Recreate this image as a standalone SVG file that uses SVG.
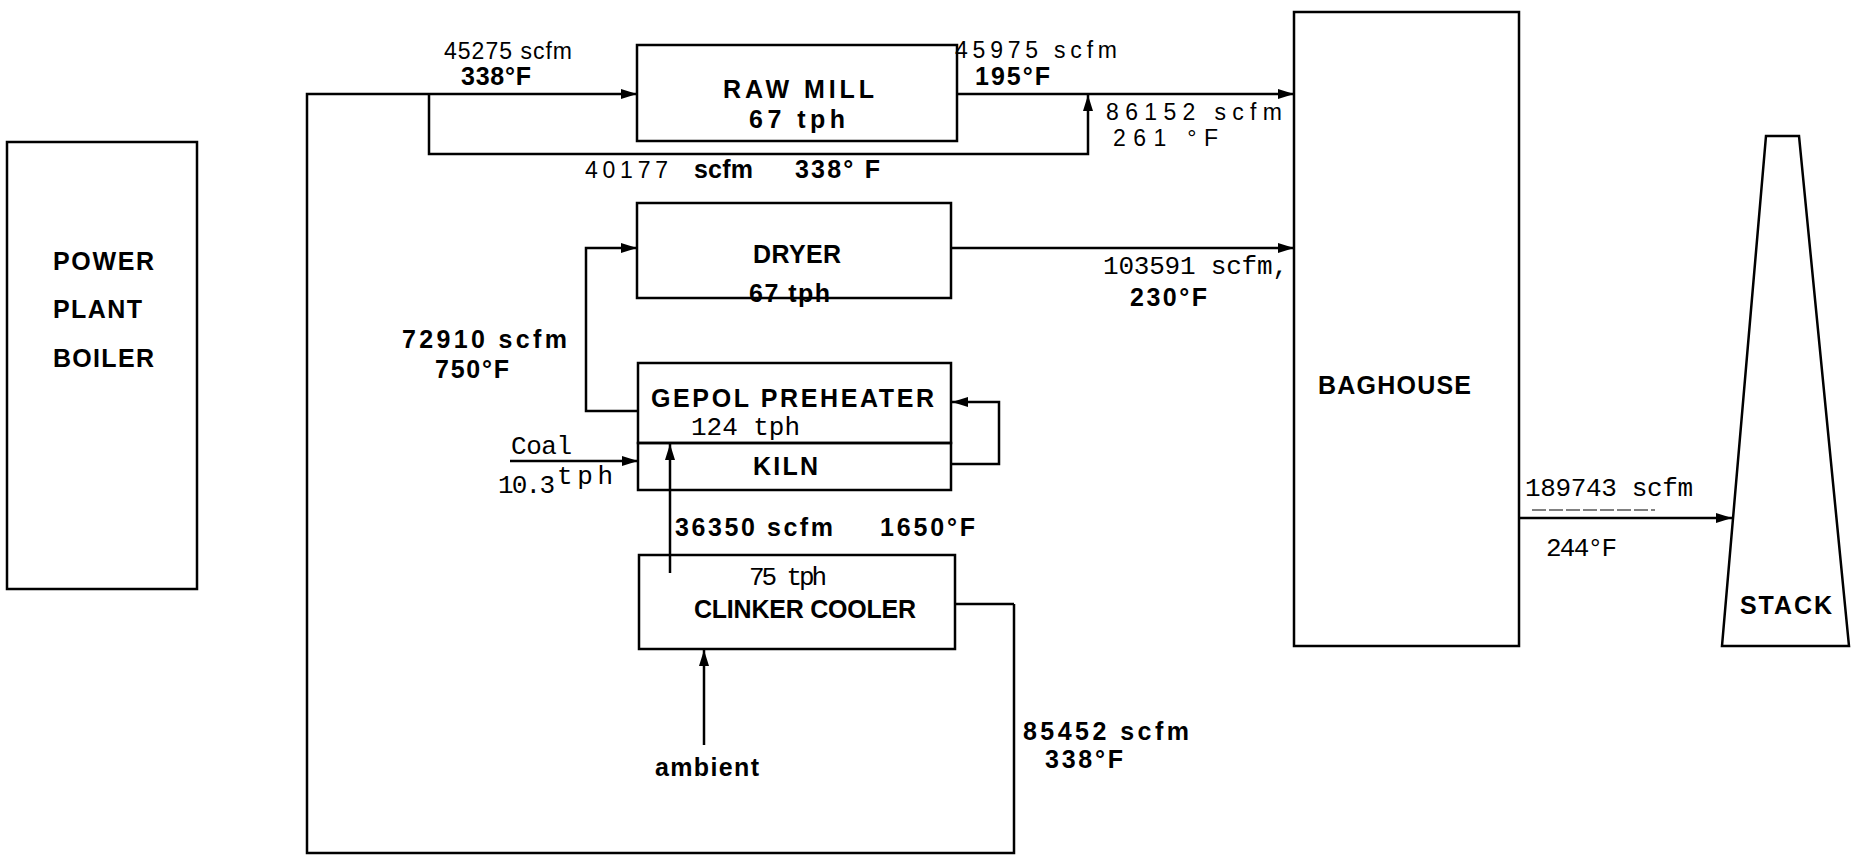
<svg xmlns="http://www.w3.org/2000/svg" width="1853" height="856" viewBox="0 0 1853 856">
<style>
.box{fill:none;stroke:#000;stroke-width:2.5}
.ln{fill:none;stroke:#000;stroke-width:2.5}
.lb{font-family:"Liberation Sans",Arial,sans-serif;font-weight:bold;font-size:25px;fill:#000}
.nm{font-family:"Liberation Sans",Arial,sans-serif;font-weight:bold;font-size:25px;fill:#000}
.hw{font-family:"Liberation Sans",Arial,sans-serif;font-size:23px;fill:#000}
.tw{font-family:"Liberation Mono","Courier New",monospace;font-size:26px;fill:#000}
</style>
<defs>
<marker id="ah" viewBox="0 0 16 10" refX="16" refY="5" markerWidth="16" markerHeight="10" markerUnits="userSpaceOnUse" orient="auto">
<path d="M0,0 L16,5 L0,10 Z" fill="#000"/>
</marker>
</defs>
<rect width="1853" height="856" fill="#fff"/>

<g id="connectors">
<path class="ln" d="M1014,604 L1014,853 L307,853 L307,94 L637,94" marker-end="url(#ah)"/>
<path class="ln" d="M429,94 L429,154 L1088,154 L1088,95" marker-end="url(#ah)"/>
<path class="ln" d="M957,94 L1294,94" marker-end="url(#ah)"/>
<path class="ln" d="M951,248 L1294,248" marker-end="url(#ah)"/>
<path class="ln" d="M638,411 L586,411 L586,248 L637,248" marker-end="url(#ah)"/>
<path class="ln" d="M951,464 L999,464 L999,402 L952,402" marker-end="url(#ah)"/>
<path class="ln" d="M510,461 L638,461" marker-end="url(#ah)"/>
<path class="ln" d="M670,573 L670,444" marker-end="url(#ah)"/>
<path class="ln" d="M704,745 L704,650" marker-end="url(#ah)"/>
<path class="ln" d="M955,604 L1014,604"/>
<path class="ln" d="M1519,518 L1732,518" marker-end="url(#ah)"/>
<line x1="1532" y1="510" x2="1655" y2="510" stroke="#000" stroke-width="1" stroke-dasharray="14,3"/>
</g>

<g id="boiler">
<rect class="box" x="7" y="142" width="190" height="447"/>
<text class="lb" x="53" y="270" textLength="101" lengthAdjust="spacing">POWER</text>
<text class="lb" x="53" y="318" textLength="89" lengthAdjust="spacing">PLANT</text>
<text class="lb" x="53" y="367" textLength="101" lengthAdjust="spacing">BOILER</text>
</g>

<g id="rawmill">
<rect class="box" x="637" y="45" width="320" height="96"/>
<text class="lb" x="723" y="98" textLength="151" lengthAdjust="spacing">RAW MILL</text>
<text class="lb" x="749" y="128" textLength="96" lengthAdjust="spacing">67 tph</text>
</g>

<g id="dryer">
<rect class="box" x="637" y="203" width="314" height="95"/>
<text class="lb" x="753" y="263" textLength="88" lengthAdjust="spacing">DRYER</text>
<text class="lb" x="749" y="302" textLength="81" lengthAdjust="spacing">67 tph</text>
</g>

<g id="preheater">
<rect class="box" x="638" y="363" width="313" height="80"/>
<text class="lb" x="651" y="407" textLength="283" lengthAdjust="spacing">GEPOL  PREHEATER</text>
<text class="tw" x="691" y="435" font-size="23" textLength="109" lengthAdjust="spacing">124 tph</text>
</g>

<g id="kiln">
<rect class="box" x="638" y="443" width="313" height="47"/>
<text class="lb" x="753" y="475" textLength="65" lengthAdjust="spacing">KILN</text>
</g>

<g id="cooler">
<rect class="box" x="639" y="555" width="316" height="94"/>
<text class="tw" x="749" y="585" textLength="78" lengthAdjust="spacing">75 tph</text>
<text class="lb" x="694" y="618" textLength="222" lengthAdjust="spacing">CLINKER COOLER</text>
</g>

<g id="baghouse">
<rect class="box" x="1294" y="12" width="225" height="634"/>
<text class="lb" x="1318" y="394" textLength="153" lengthAdjust="spacing">BAGHOUSE</text>
</g>

<g id="stack">
<path class="box" d="M1766,136 L1799,136 L1849,646 L1722,646 Z"/>
<text class="lb" x="1740" y="614" textLength="92" lengthAdjust="spacing">STACK</text>
</g>

<g id="labels">
<text class="hw" x="444" y="59" textLength="128" lengthAdjust="spacing">45275 scfm</text>
<text class="nm" x="461" y="85" font-size="22" textLength="70" lengthAdjust="spacing">338°F</text>
<text class="hw" x="955" y="58" textLength="162" lengthAdjust="spacing">45975 scfm</text>
<text class="nm" x="975" y="85" font-size="22" textLength="75" lengthAdjust="spacing">195°F</text>
<text class="hw" x="1106" y="120" textLength="176" lengthAdjust="spacing">86152  scfm</text>
<text class="hw" x="1113" y="146" textLength="105" lengthAdjust="spacing">261 °F</text>
<text class="hw" x="585" y="178" textLength="83" lengthAdjust="spacing">40177</text>
<text class="nm" x="694" y="178" textLength="59" lengthAdjust="spacing">scfm</text>
<text class="nm" x="795" y="178" textLength="85" lengthAdjust="spacing">338° F</text>
<text class="tw" x="1103" y="274" textLength="185" lengthAdjust="spacing">103591 scfm,</text>
<text class="nm" x="1130" y="306" textLength="77" lengthAdjust="spacing">230°F</text>
<text class="nm" x="402" y="348" textLength="165" lengthAdjust="spacing">72910 scfm</text>
<text class="nm" x="435" y="378" textLength="74" lengthAdjust="spacing">750°F</text>
<text class="tw" x="511" y="454" textLength="61" lengthAdjust="spacing">Coal</text>
<text class="tw" x="498" y="493" textLength="57" lengthAdjust="spacing">10.3</text>
<text class="tw" x="557" y="484" font-size="23" textLength="56" lengthAdjust="spacing">tph</text>
<text class="nm" x="675" y="536" textLength="158" lengthAdjust="spacing">36350 scfm</text>
<text class="nm" x="880" y="536" textLength="95" lengthAdjust="spacing">1650°F</text>
<text class="nm" x="655" y="776" textLength="104" lengthAdjust="spacing">ambient</text>
<text class="nm" x="1023" y="740" textLength="166" lengthAdjust="spacing">85452 scfm</text>
<text class="nm" x="1045" y="768" textLength="78" lengthAdjust="spacing">338°F</text>
<text class="tw" x="1525" y="496" textLength="168" lengthAdjust="spacing">189743 scfm</text>
<text class="tw" x="1546" y="556" textLength="71" lengthAdjust="spacing">244°F</text>
</g>
</svg>
